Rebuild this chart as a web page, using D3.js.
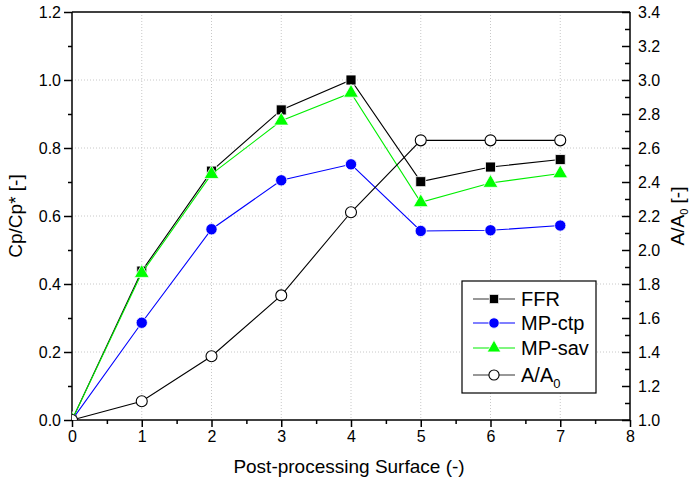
<!DOCTYPE html>
<html><head><meta charset="utf-8">
<script src="https://cdn.jsdelivr.net/npm/d3@7"></script>
<style>
body{margin:0;background:#fff}
text{font-family:"Liberation Sans",Arial,Helvetica,sans-serif;fill:#000}
</style>
</head><body>
<svg id="chart" width="693" height="488"></svg>
<script>
// ---- data ----
const surfaces = [0, 1, 2, 3, 4, 5, 6, 7];
const ffr   = [0, 0.438, 0.732, 0.912, 1.000, 0.701, 0.744, 0.766];
const mpCtp = [0, 0.286, 0.561, 0.705, 0.752, 0.556, 0.558, 0.572];
const mpSav = [0, 0.432, 0.723, 0.880, 0.962, 0.640, 0.697, 0.725];
const areaRatio = [1.0, 1.11, 1.375, 1.733, 2.222, 2.645, 2.645, 2.645];
const xTickValues = [0, 1, 2, 3, 4, 5, 6, 7, 8];
const leftTickValues = [0, 0.2, 0.4, 0.6, 0.8, 1.0, 1.2];
const rightTickValues = [1.0, 1.2, 1.4, 1.6, 1.8, 2.0, 2.2, 2.4, 2.6, 2.8, 3.0, 3.2, 3.4];
const seriesNames = ["FFR", "MP-ctp", "MP-sav", "A/A0"];

// ---- layout ----
const L = 72, R = 630, T = 12, B = 420;
const svg = d3.select("#chart");
const x = d3.scaleLinear().domain([0, 8]).range([L, R]);
const yL = d3.scaleLinear().domain([0, 1.2]).range([B, T]);
const yR = d3.scaleLinear().domain([1.0, 3.4]).range([B, T]);

// grid
const grid = svg.append("g").attr("stroke", "#c8c8c8").attr("stroke-width", 1).attr("stroke-dasharray", "1,2");
xTickValues.filter(v => v > 0 && v < 8).forEach(v => {
  grid.append("line").attr("x1", x(v)).attr("x2", x(v)).attr("y1", T).attr("y2", B);
});
leftTickValues.filter(v => v > 0 && v < 1.2).forEach(v => {
  grid.append("line").attr("x1", L).attr("x2", R).attr("y1", yL(v)).attr("y2", yL(v));
});

// axes
const fmt = d3.format(".1f");
const bottom = svg.append("g").attr("transform", `translate(0,${B})`)
  .call(d3.axisBottom(x).tickValues(xTickValues).tickSize(7).tickPadding(4).tickFormat(d3.format("d")));
const bottomMinor = svg.append("g").attr("transform", `translate(0,${B})`)
  .call(d3.axisBottom(x).tickValues(d3.range(0.5, 8, 1)).tickSize(4).tickFormat(""));
const left = svg.append("g").attr("transform", `translate(${L},0)`)
  .call(d3.axisLeft(yL).tickValues(leftTickValues).tickSize(8).tickPadding(3).tickFormat(fmt));
const leftMinor = svg.append("g").attr("transform", `translate(${L},0)`)
  .call(d3.axisLeft(yL).tickValues(d3.range(0.1, 1.2, 0.2)).tickSize(4).tickFormat(""));
const right = svg.append("g").attr("transform", `translate(${R},0)`)
  .call(d3.axisRight(yR).tickValues(rightTickValues).tickSize(-8).tickPadding(8).tickFormat(fmt));
const rightMinor = svg.append("g").attr("transform", `translate(${R},0)`)
  .call(d3.axisRight(yR).tickValues(d3.range(1.1, 3.4, 0.2)).tickSize(-5).tickFormat(""));
svg.append("line").attr("x1", L).attr("x2", R).attr("y1", T).attr("y2", T).attr("stroke", "#000").attr("stroke-width", 1.5);

[bottom, bottomMinor, left, leftMinor, right, rightMinor].forEach(g => {
  g.select(".domain").remove();
  g.selectAll(".tick line").attr("stroke", "#000").attr("stroke-width", 1.5);
  g.selectAll("text").attr("font-size", 16).attr("font-family", "Liberation Sans, Arial, sans-serif").attr("fill", "#000");
});
svg.append("line").attr("x1", L).attr("x2", L).attr("y1", T).attr("y2", B).attr("stroke", "#000").attr("stroke-width", 1.5);
svg.append("line").attr("x1", R).attr("x2", R).attr("y1", T).attr("y2", B).attr("stroke", "#000").attr("stroke-width", 1.5);
svg.append("line").attr("x1", L).attr("x2", R).attr("y1", B).attr("y2", B).attr("stroke", "#000").attr("stroke-width", 1.5);

// titles
svg.append("text").attr("x", (L + R) / 2 - 2).attr("y", 473).attr("text-anchor", "middle")
  .attr("font-size", 19).text("Post-processing Surface (-)");
svg.append("text").attr("transform", `translate(22,${(T + B) / 2}) rotate(-90)`).attr("text-anchor", "middle")
  .attr("font-size", 19).text("Cp/Cp* [-]");
const rt = svg.append("text").attr("transform", `translate(684,${(T + B) / 2}) rotate(-90)`).attr("text-anchor", "middle")
  .attr("font-size", 19);
rt.append("tspan").text("A/A");
rt.append("tspan").attr("font-size", 11).attr("dy", 4).text("0");
rt.append("tspan").attr("dy", -4).text(" [-]");

// series
svg.append("defs").append("clipPath").attr("id", "plotclip")
  .append("rect").attr("x", L).attr("y", T).attr("width", R - L).attr("height", B - T);
const plot = svg.append("g").attr("clip-path", "url(#plotclip)");

const series = [
  { name: seriesNames[0], vals: ffr, y: yL, color: "#000000", sym: d3.symbolSquare, size: 100, fill: "#000000" },
  { name: seriesNames[1], vals: mpCtp, y: yL, color: "#0000ff", sym: d3.symbolCircle, size: 100, fill: "#0000ff" },
  { name: seriesNames[2], vals: mpSav, y: yL, color: "#00ee00", sym: d3.symbolTriangle, size: 95, fill: "#00ff00" },
  { name: seriesNames[3], vals: areaRatio, y: yR, color: "#000000", sym: d3.symbolCircle, size: 95, fill: "#ffffff" }
];

series.forEach(s => {
  const line = d3.line().x((d, i) => x(surfaces[i])).y(d => s.y(d));
  plot.append("path").attr("d", line(s.vals)).attr("fill", "none").attr("stroke", s.color).attr("stroke-width", 1.1);
  plot.selectAll(null).data(s.vals).enter().append("path")
    .attr("d", d3.symbol().type(s.sym).size(s.size))
    .attr("transform", (d, i) => `translate(${x(surfaces[i])},${s.y(d)})`)
    .attr("fill", s.fill)
    .attr("stroke", s.fill === "#ffffff" ? "#000" : "#fff")
    .attr("stroke-width", s.fill === "#ffffff" ? 1.1 : 0.8);
});

// legend
const lg = svg.append("g");
lg.append("rect").attr("x", 462).attr("y", 281).attr("width", 134).attr("height", 112)
  .attr("fill", "#fff").attr("stroke", "#000").attr("stroke-width", 1.2);
const rowsY = [299, 323, 348, 375];
series.forEach((s, i) => {
  const yy = rowsY[i];
  lg.append("line").attr("x1", 473).attr("x2", 515).attr("y1", yy).attr("y2", yy).attr("stroke", s.color === "#000000" ? "#333" : s.color).attr("stroke-width", 1.1);
  lg.append("path").attr("d", d3.symbol().type(s.sym).size(s.size * 0.85)).attr("transform", `translate(494,${yy})`)
    .attr("fill", s.fill).attr("stroke", s.fill === "#ffffff" ? "#000" : "#fff").attr("stroke-width", s.fill === "#ffffff" ? 1.1 : 0.8);
  const t = lg.append("text").attr("x", 521).attr("y", yy + 7).attr("font-size", 20);
  if (s.name === "A/A0") {
    t.append("tspan").text("A/A");
    t.append("tspan").attr("font-size", 13).attr("dy", 6).text("0");
  } else t.text(s.name);
});
</script>
</body></html>
